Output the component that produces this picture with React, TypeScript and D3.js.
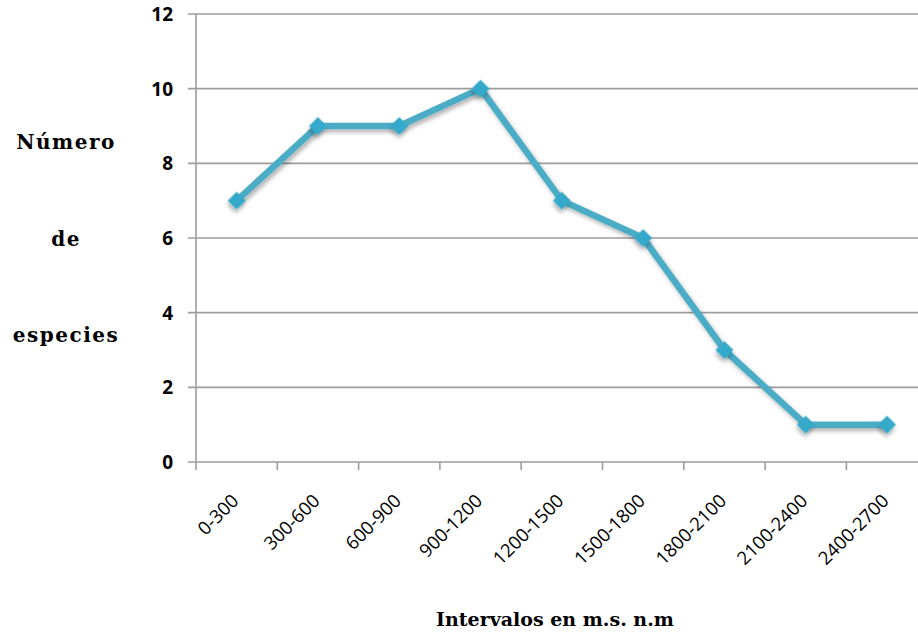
import * as d3 from 'd3';
import { useEffect, useRef } from 'react';

const intervals = [
  '0-300', '300-600', '600-900', '900-1200', '1200-1500',
  '1500-1800', '1800-2100', '2100-2400', '2400-2700',
];
const species = [7, 9, 9, 10, 7, 6, 3, 1, 1];
const yTicks = [0, 2, 4, 6, 8, 10, 12];
const yTitle = ['Número', 'de', 'especies'];
const xTitle = 'Intervalos en m.s. n.m';

const App = () => {
  const svgRef = useRef<SVGSVGElement>(null);
  const width = 918;
  const height = 638;
  const left = 196;
  const top = 14;
  const bottom = 462;

  useEffect(() => {
    const svg = d3.select(svgRef.current);
    svg.selectAll('*').remove();

    const x = d3.scaleBand().domain(intervals).range([left, left + 9 * 81.3]);
    const y = d3.scaleLinear().domain([0, 12]).range([bottom, top]);

    const defs = svg.append('defs');
    const f = defs.append('filter').attr('id', 'shadow').attr('x', '-50%').attr('y', '-50%').attr('width', '200%').attr('height', '200%');
    f.append('feDropShadow').attr('dx', 2).attr('dy', 3).attr('stdDeviation', 2).attr('flood-color', '#000').attr('flood-opacity', 0.3);

    // gridlines
    svg.append('g')
      .selectAll('line')
      .data(yTicks)
      .enter()
      .append('line')
      .attr('x1', left - 8)
      .attr('x2', width)
      .attr('y1', (d) => y(d))
      .attr('y2', (d) => y(d))
      .attr('stroke', '#9d9d9d')
      .attr('stroke-width', 1.6);

    // y axis line
    svg.append('line')
      .attr('x1', left).attr('x2', left)
      .attr('y1', top).attr('y2', bottom)
      .attr('stroke', '#9d9d9d').attr('stroke-width', 1.6);

    // x ticks
    svg.append('g')
      .selectAll('line')
      .data(intervals)
      .enter()
      .append('line')
      .attr('x1', (d) => x(d)!)
      .attr('x2', (d) => x(d)!)
      .attr('y1', bottom)
      .attr('y2', bottom + 8)
      .attr('stroke', '#9d9d9d')
      .attr('stroke-width', 1.6);

    // y tick labels
    svg.append('g')
      .selectAll('text')
      .data(yTicks)
      .enter()
      .append('text')
      .attr('x', 173)
      .attr('y', (d) => y(d))
      .attr('dy', '0.36em')
      .attr('text-anchor', 'end')
      .attr('font-family', 'Open Sans, sans-serif')
      .attr('font-weight', 'bold')
      .attr('font-size', 19)
      .attr('fill', '#000')
      .text((d) => d);

    // x tick labels
    svg.append('g')
      .selectAll('text')
      .data(intervals)
      .enter()
      .append('text')
      .attr('transform', (d) => `translate(${x(d)! + x.bandwidth() / 2 + 3},${bottom + 40}) rotate(-45)`)
      .attr('text-anchor', 'end')
      .attr('font-family', 'Open Sans, sans-serif')
      .attr('font-size', 18.5)
      .attr('fill', '#000')
      .text((d) => d);

    const cx = (d: string) => x(d)! + x.bandwidth() / 2;
    const line = d3.line<number>()
      .x((_, i) => cx(intervals[i]))
      .y((d) => y(d));

    svg.append('path')
      .datum(species)
      .attr('d', line)
      .attr('fill', 'none')
      .attr('stroke', '#4bacc6')
      .attr('stroke-width', 6.5)
      .attr('stroke-linejoin', 'round')
      .attr('filter', 'url(#shadow)');

    svg.append('g')
      .selectAll('path')
      .data(species)
      .enter()
      .append('path')
      .attr('d', d3.symbol(d3.symbolSquare, 160)())
      .attr('transform', (d, i) => `translate(${cx(intervals[i])},${y(d)}) rotate(45)`)
      .attr('fill', '#36a9c9')
      .attr('filter', 'url(#shadow)');

    // axis titles
    svg.append('g')
      .selectAll('text')
      .data(yTitle)
      .enter()
      .append('text')
      .attr('x', 66)
      .attr('y', (_, i) => 149 + i * 96.5)
      .attr('text-anchor', 'middle')
      .attr('font-family', 'DejaVu Serif, serif')
      .attr('font-weight', 'bold')
      .attr('font-size', 20)
      .attr('letter-spacing', 1.5)
      .text((d) => d);

    svg.append('text')
      .attr('x', 555)
      .attr('y', 626)
      .attr('text-anchor', 'middle')
      .attr('font-family', 'DejaVu Serif, serif')
      .attr('font-weight', 'bold')
      .attr('font-size', 19)
      .text(xTitle);
  }, []);

  return (
    <svg
      ref={svgRef}
      width={width}
      height={height}
      style={{ position: 'absolute', left: 0, top: 0, background: '#fff' }}
    />
  );
};

export default App;
